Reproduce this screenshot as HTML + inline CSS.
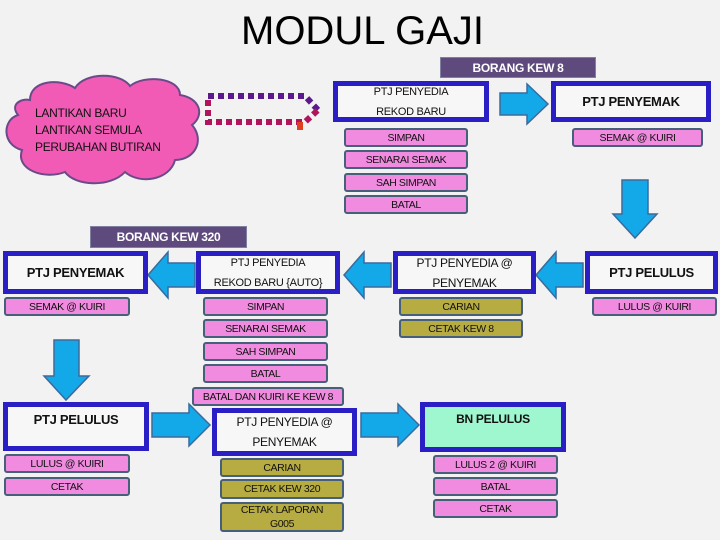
<!DOCTYPE html>
<html><head><meta charset="utf-8"><style>
body{margin:0;width:720px;height:540px;background:#f2f2f2;position:relative;overflow:hidden;font-family:"Liberation Sans Narrow","Liberation Sans",sans-serif}
.a{position:absolute;box-sizing:border-box;display:flex;align-items:center;justify-content:center;text-align:center;color:#111}
.m{border:5px solid #2a1fc4;background:#f7f7f7;font-weight:bold;font-size:13px;line-height:20px;letter-spacing:-0.3px}
.p{background:#f08be0;border:2px solid #46607a;border-radius:3px;font-size:10.5px;letter-spacing:-0.4px}
.o{background:#b7ac42;border:2px solid #46607a;border-radius:3px;font-size:10.5px;letter-spacing:-0.4px}
.h{background:#5f4a7d;color:#fff;font-weight:bold;font-size:12px;border:1px solid #8080a0;letter-spacing:-0.3px}
svg{position:absolute;left:0;top:0}
</style></head><body>
<div class="a" style="left:200px;top:8px;width:325px;height:46px;font-family:'Liberation Sans',sans-serif;font-size:40px;color:#000">MODUL GAJI</div>
<svg width="720" height="540">
<g fill="#f15bb5" stroke="#6b4a8a" stroke-width="2">
<path d="M30,100 C30,80 60,78 75,88 C85,72 120,72 130,86 C145,74 180,78 180,95 C200,98 205,115 192,125 C205,140 195,160 175,160 C170,180 140,185 125,172 C110,188 75,186 65,172 C45,180 15,170 22,150 C2,145 2,120 18,115 C10,105 20,98 30,100 Z"/>
</g>
<g fill="none" stroke-width="6" stroke-dasharray="6,4">
<path d="M208,96 H305 L318,110" stroke="#5b1a8c"/>
<path d="M208,100 V122 H305 L318,110" stroke="#b0145c"/>
</g>
<rect x="297" y="122" width="6" height="8" fill="#e04020"/>
<g fill="#13a8e8" stroke="#3b6a9e" stroke-width="1.5">
<path d="M500,93 H527 V84 L548,104 L527,124 V115 H500 Z"/>
<path d="M622,180 H648 V214 H657 L635,238 L613,214 H622 Z"/>
<path d="M195,263 H168 V252 L148,275 L168,298 V287 H195 Z"/>
<path d="M391,263 H364 V252 L344,275 L364,298 V287 H391 Z"/>
<path d="M583,263 H556 V252 L536,275 L556,298 V287 H583 Z"/>
<path d="M54,340 H79 V376 H89 L66,400 L44,376 H54 Z"/>
<path d="M152,413 H189 V404 L210,425 L189,446 V437 H152 Z"/>
<path d="M361,413 H398 V404 L419,425 L398,446 V437 H361 Z"/>
</g>
</svg>
<div class="a" style="left:30px;top:100px;width:150px;height:60px;font-size:12px;line-height:17px;text-align:left;justify-content:flex-start;padding-left:5px;letter-spacing:-0.3px">LANTIKAN BARU<br>LANTIKAN SEMULA<br>PERUBAHAN BUTIRAN</div>
<div class="a h" style="left:440px;top:57px;width:156px;height:21px">BORANG KEW 8</div>
<div class="a m" style="left:333px;top:81px;width:156px;height:41px;font-size:11px;font-weight:normal">PTJ PENYEDIA<br>REKOD BARU</div>
<div class="a m" style="left:551px;top:81px;width:160px;height:41px">PTJ PENYEMAK</div>
<div class="a p" style="left:344px;top:128px;width:124px;height:19px">SIMPAN</div>
<div class="a p" style="left:344px;top:150px;width:124px;height:19px">SENARAI SEMAK</div>
<div class="a p" style="left:344px;top:173px;width:124px;height:19px">SAH SIMPAN</div>
<div class="a p" style="left:344px;top:195px;width:124px;height:19px">BATAL</div>
<div class="a p" style="left:572px;top:128px;width:131px;height:19px">SEMAK @ KUIRI</div>
<div class="a h" style="left:90px;top:226px;width:157px;height:22px">BORANG KEW 320</div>
<div class="a m" style="left:3px;top:251px;width:145px;height:43px">PTJ PENYEMAK</div>
<div class="a m" style="left:196px;top:251px;width:144px;height:43px;font-size:11px;font-weight:normal">PTJ PENYEDIA<br>REKOD BARU {AUTO}</div>
<div class="a m" style="left:393px;top:251px;width:143px;height:43px;font-size:12px;font-weight:normal">PTJ PENYEDIA @<br>PENYEMAK</div>
<div class="a m" style="left:585px;top:251px;width:133px;height:43px">PTJ PELULUS</div>
<div class="a p" style="left:4px;top:297px;width:126px;height:19px">SEMAK @ KUIRI</div>
<div class="a p" style="left:203px;top:297px;width:125px;height:19px">SIMPAN</div>
<div class="a p" style="left:203px;top:319px;width:125px;height:19px">SENARAI SEMAK</div>
<div class="a p" style="left:203px;top:342px;width:125px;height:19px">SAH SIMPAN</div>
<div class="a p" style="left:203px;top:364px;width:125px;height:19px">BATAL</div>
<div class="a p" style="left:192px;top:387px;width:152px;height:19px">BATAL DAN KUIRI KE KEW 8</div>
<div class="a o" style="left:399px;top:297px;width:124px;height:19px">CARIAN</div>
<div class="a o" style="left:399px;top:319px;width:124px;height:19px">CETAK KEW 8</div>
<div class="a p" style="left:592px;top:297px;width:125px;height:19px">LULUS @ KUIRI</div>
<div class="a m" style="left:3px;top:402px;width:146px;height:49px;align-items:flex-start;padding-top:3px">PTJ PELULUS</div>
<div class="a m" style="left:212px;top:408px;width:145px;height:48px;font-size:12px;font-weight:normal">PTJ PENYEDIA @<br>PENYEMAK</div>
<div class="a m" style="left:420px;top:402px;width:146px;height:50px;background:#9ff7cf;align-items:flex-start;padding-top:2px;font-size:12px">BN PELULUS</div>
<div class="a p" style="left:4px;top:454px;width:126px;height:19px">LULUS @ KUIRI</div>
<div class="a p" style="left:4px;top:477px;width:126px;height:19px">CETAK</div>
<div class="a o" style="left:220px;top:458px;width:124px;height:19px">CARIAN</div>
<div class="a o" style="left:220px;top:479px;width:124px;height:20px">CETAK KEW 320</div>
<div class="a o" style="left:220px;top:502px;width:124px;height:30px;line-height:14px">CETAK LAPORAN<br>G005</div>
<div class="a p" style="left:433px;top:455px;width:125px;height:19px">LULUS 2 @ KUIRI</div>
<div class="a p" style="left:433px;top:477px;width:125px;height:19px">BATAL</div>
<div class="a p" style="left:433px;top:499px;width:125px;height:19px">CETAK</div>
</body></html>
